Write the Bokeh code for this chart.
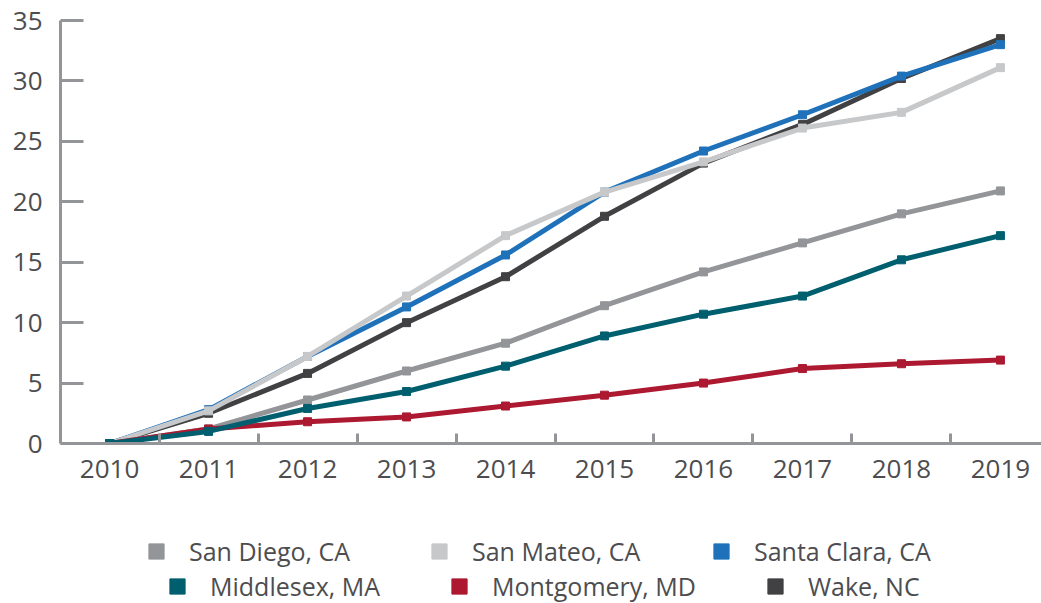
from bokeh.plotting import figure
from bokeh.layouts import column
from bokeh.models import Range1d, FixedTicker, Legend, LegendItem, ColumnDataSource
from bokeh.embed import file_html
from bokeh.resources import INLINE

years = [2010, 2011, 2012, 2013, 2014, 2015, 2016, 2017, 2018, 2019]
san_diego = [0, 1.2, 3.6, 6.0, 8.3, 11.4, 14.2, 16.6, 19.0, 20.9]
san_mateo = [0, 2.7, 7.2, 12.2, 17.2, 20.8, 23.3, 26.1, 27.4, 31.1]
santa_clara = [0, 2.8, 7.2, 11.3, 15.6, 20.8, 24.2, 27.2, 30.4, 33.0]
middlesex = [0, 1.0, 2.9, 4.3, 6.4, 8.9, 10.7, 12.2, 15.2, 17.2]
montgomery = [0, 1.2, 1.8, 2.2, 3.1, 4.0, 5.0, 6.2, 6.6, 6.9]
wake = [0, 2.5, 5.8, 10.0, 13.8, 18.8, 23.2, 26.4, 30.2, 33.5]

series = {
    "San Diego, CA": (san_diego, "#939598"),
    "San Mateo, CA": (san_mateo, "#C7C8CA"),
    "Santa Clara, CA": (santa_clara, "#1F72BA"),
    "Middlesex, MA": (middlesex, "#005F6F"),
    "Montgomery, MD": (montgomery, "#AC1930"),
    "Wake, NC": (wake, "#414042"),
}
draw_order = ["Wake, NC", "Santa Clara, CA", "San Mateo, CA", "San Diego, CA",
              "Montgomery, MD", "Middlesex, MA"]
# legend layout: (name, x of glyph box from frame left, y of legend bottom from bottom of legend strip)
legend_pos = [
    ("San Diego, CA", 77, 33), ("San Mateo, CA", 360, 33), ("Santa Clara, CA", 642, 33),
    ("Middlesex, MA", 98, -2), ("Montgomery, MD", 380, -2), ("Wake, NC", 696, -2),
]

FONT = "Open Sans"
AXIS_COLOR = "#939598"
TEXT_COLOR = "#4D4D4F"

p = figure(width=1041, height=500, output_backend="svg", toolbar_location=None,
           x_range=Range1d(2009.504, 2019.415), y_range=Range1d(0, 35),
           min_border_left=60, min_border_right=0, min_border_top=20,
           min_border_bottom=57)
p.grid.visible = False
p.outline_line_color = None

for name in draw_order:
    vals, col = series[name]
    src = ColumnDataSource(dict(x=years, y=vals))
    p.line("x", "y", source=src, line_color=col, line_width=5)
    p.scatter("x", "y", source=src, marker="square", size=8,
              fill_color=col, line_color=col)

# x axis
xa = p.xaxis[0]
xa.ticker = FixedTicker(ticks=years, minor_ticks=[y + 0.5 for y in years[:-1]])
xa.major_tick_in = 0
xa.major_tick_out = 0
xa.minor_tick_in = 10
xa.minor_tick_out = 0
xa.minor_tick_line_color = AXIS_COLOR
xa.minor_tick_line_width = 3
xa.axis_line_color = AXIS_COLOR
xa.axis_line_width = 3
xa.major_label_text_font = FONT
xa.major_label_text_font_size = "26px"
xa.major_label_text_color = TEXT_COLOR
xa.major_label_standoff = 16

# y axis
ya = p.yaxis[0]
ya.ticker = FixedTicker(ticks=[0, 5, 10, 15, 20, 25, 30, 35])
ya.major_tick_in = 23
ya.major_tick_out = 0
ya.minor_tick_in = 0
ya.minor_tick_out = 0
ya.major_tick_line_color = AXIS_COLOR
ya.major_tick_line_width = 3
ya.axis_line_color = AXIS_COLOR
ya.axis_line_width = 3
ya.major_label_text_font = FONT
ya.major_label_text_font_size = "26px"
ya.major_label_text_color = TEXT_COLOR
ya.major_label_standoff = 18

# legend strip (renderers sit outside its visible range; only legend glyphs show)
lf = figure(width=1041, height=103, output_backend="svg", toolbar_location=None,
            x_range=Range1d(0, 1), y_range=Range1d(0, 1),
            x_axis_type=None, y_axis_type=None, min_border=0)
lf.grid.visible = False
lf.outline_line_color = None
for name, lx, ly in legend_pos:
    vals, col = series[name]
    r = lf.scatter(years, vals, marker="square", size=8, fill_color=col, line_color=col)
    lg = Legend(items=[LegendItem(label=name, renderers=[r])],
                location=(lx, ly), orientation="horizontal",
                glyph_width=38, glyph_height=38, label_standoff=14,
                padding=0, margin=0, border_line_alpha=0, background_fill_alpha=0,
                label_text_font=FONT, label_text_font_size="25px",
                label_text_color=TEXT_COLOR, label_height=30)
    lf.add_layout(lg, "center")

layout = column(p, lf, spacing=0)
open("out.html", "w").write(file_html(layout, INLINE))
